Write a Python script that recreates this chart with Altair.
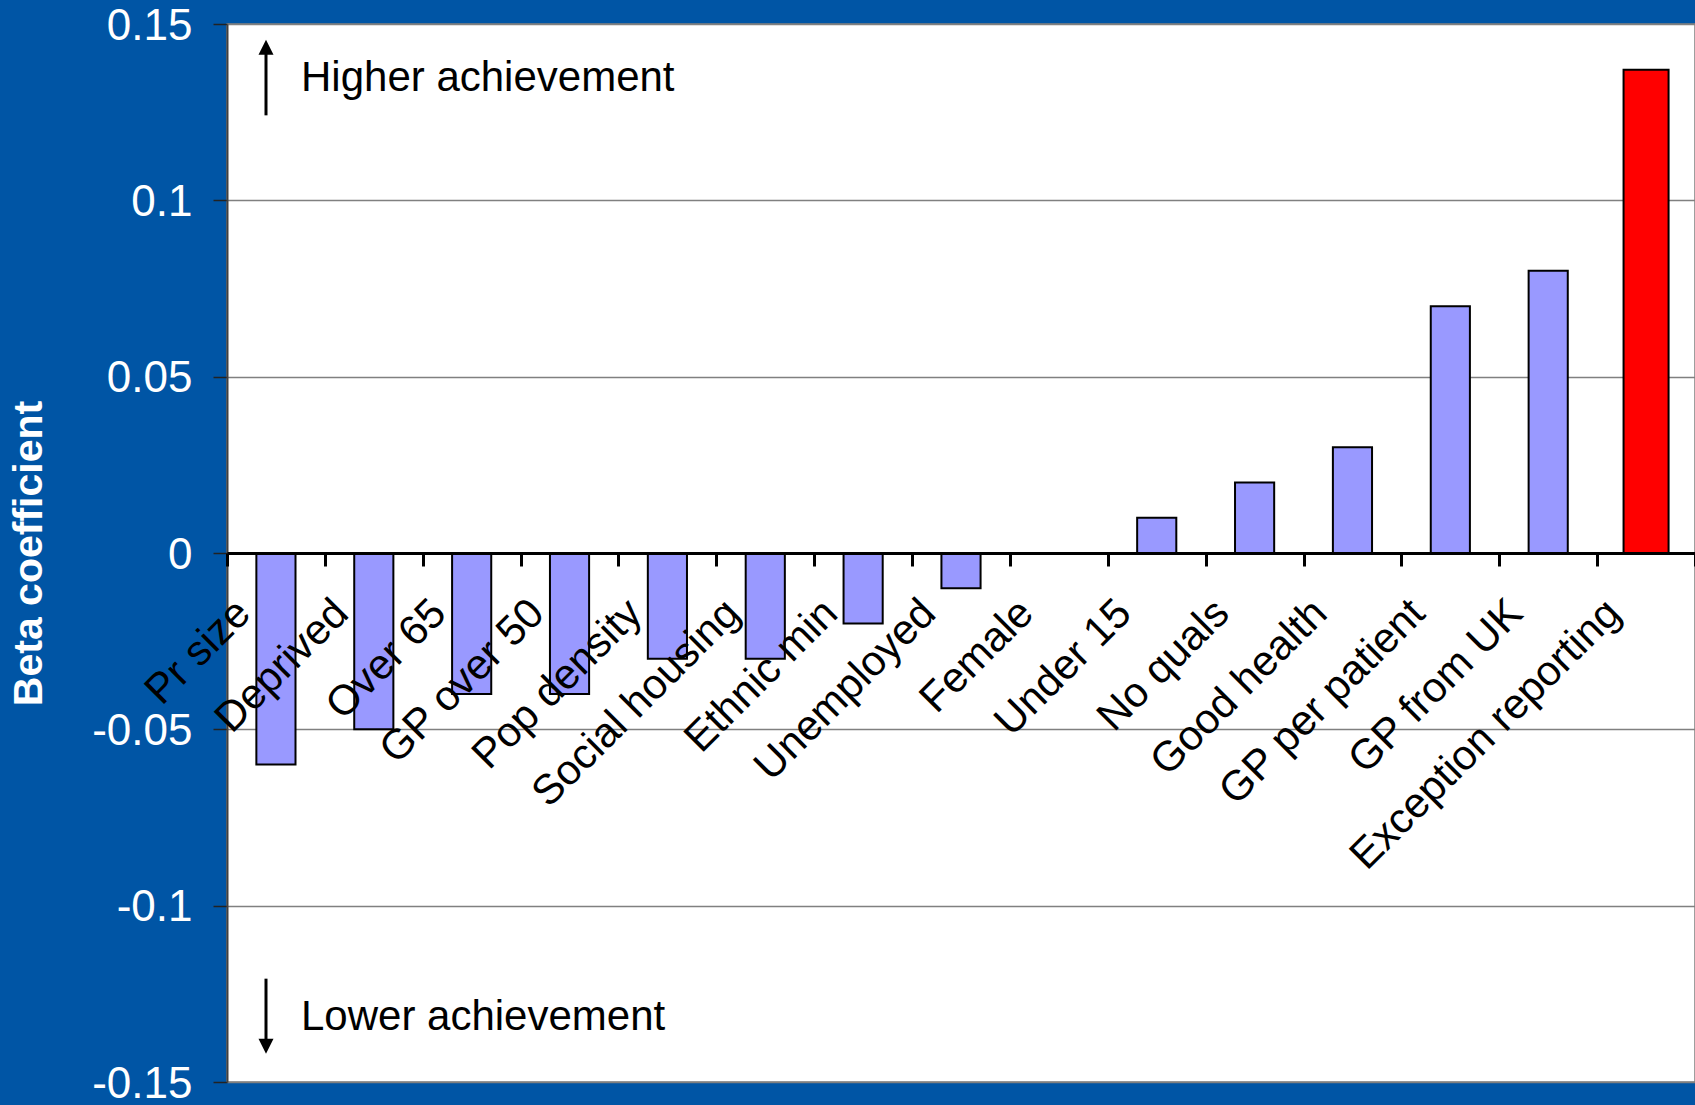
import altair as alt
import pandas as pd

# ---- data ----
CATEGORIES = ["Pr size", "Deprived", "Over 65", "GP over 50", "Pop density",
              "Social housing", "Ethnic min", "Unemployed", "Female", "Under 15",
              "No quals", "Good health", "GP per patient", "GP from UK",
              "Exception reporting"]
BETAS = [-0.06, -0.05, -0.04, -0.04, -0.03, -0.03, -0.02, -0.01, 0.0, 0.01,
         0.02, 0.03, 0.07, 0.08, 0.137]
HIGHLIGHT = [0] * 14 + [1]
YTICKS = [-0.15, -0.1, -0.05, 0, 0.05, 0.1, 0.15]

NOTE_TEXT = ["Higher achievement", "Lower achievement"]
NOTE_Y = [0.1311, -0.1352]
ARROW_FROM = [0.1241, -0.1207]
ARROW_TO = [0.1440, -0.1405]
ARROW_TIP = [0.1455, -0.1420]
ARROW_DIR = ["up", "down"]

FONT = "Liberation Sans"
W, H = 1468, 1058

bars = pd.DataFrame({"variable": CATEGORIES, "beta": BETAS, "highlight": HIGHLIGHT})
notes = pd.DataFrame({"text": NOTE_TEXT, "y": NOTE_Y, "y0": ARROW_FROM,
                      "y1": ARROW_TO, "tip": ARROW_TIP, "dir": ARROW_DIR})

yscale = alt.Scale(domain=[-0.15, 0.15], nice=False, zero=False)
yaxis = alt.Axis(values=YTICKS, labelExpr="toString(datum.value)",
                 labelColor="white", labelFontSize=44, labelFont=FONT,
                 labelPadding=21, labelOffset=2, tickSize=14, tickColor="#222222",
                 tickWidth=1.5, domainColor="#404040", domainWidth=2,
                 grid=True, gridColor="#808080", gridWidth=1.3,
                 title="Beta coefficient", titleColor="white", titleFontSize=41,
                 titleFont=FONT, titleFontWeight="bold", titleX=-198, titleY=529,
                 titleAlign="center", titleBaseline="middle", titleAngle=270)

xenc = alt.X("variable:N", sort=CATEGORIES,
             scale=alt.Scale(domain=CATEGORIES, paddingInner=0, paddingOuter=0),
             axis=alt.Axis(title=None, labelAngle=-45, labelAlign="right",
                           labelBaseline="middle", labelFontSize=42, labelFont=FONT,
                           labelColor="black", labelOffset=-33, labelPadding=40,
                           labelLimit=1000, labelOverlap=False,
                           tickBand="extent", tickSize=13, tickWidth=3,
                           tickColor="black", domainColor="black", domainWidth=3,
                           offset=-H / 2, grid=False, zindex=1))
yenc = alt.Y("beta:Q", scale=yscale, axis=yaxis)

base = alt.Chart(bars)
blue = base.transform_filter("datum.highlight == 0").mark_bar(
    width=alt.RelativeBandSize(0.4), fill="#9999FF", stroke="black", strokeWidth=2
).encode(x=xenc, y=yenc)
red = base.transform_filter("datum.highlight == 1").mark_bar(
    width=alt.RelativeBandSize(0.46), fill="#FF0000", stroke="black", strokeWidth=2
).encode(x=xenc, y=yenc)

nbase = alt.Chart(notes)
texts = nbase.mark_text(align="left", baseline="alphabetic", fontSize=42,
                        font=FONT, color="black").encode(
    x=alt.value(74), y=alt.Y("y:Q", scale=yscale, axis=yaxis), text="text:N")
shafts = nbase.mark_rule(color="black", strokeWidth=3).encode(
    x=alt.value(39), y=alt.Y("y0:Q", scale=yscale, axis=yaxis), y2="y1:Q")
head_up = nbase.transform_filter("datum.dir == 'up'").mark_point(
    shape="M0,0L0.5,1L-0.5,1Z", filled=True, size=900, color="black", opacity=1
).encode(x=alt.value(39), y=alt.Y("tip:Q", scale=yscale, axis=yaxis))
head_dn = nbase.transform_filter("datum.dir == 'down'").mark_point(
    shape="M0,0L0.5,-1L-0.5,-1Z", filled=True, size=900, color="black", opacity=1
).encode(x=alt.value(39), y=alt.Y("tip:Q", scale=yscale, axis=yaxis))

chart = alt.layer(blue, red, shafts, head_up, head_dn, texts).properties(
    width=W, height=H,
    autosize=alt.AutoSizeParams(type="none"),
    padding={"left": 227, "top": 24, "right": 0, "bottom": 23},
).configure(background="#0055A5").configure_view(
    fill="white", stroke="#7f7f7f", strokeWidth=1.5)

chart.save("out.html", embed_options={"renderer": "svg", "actions": False})
